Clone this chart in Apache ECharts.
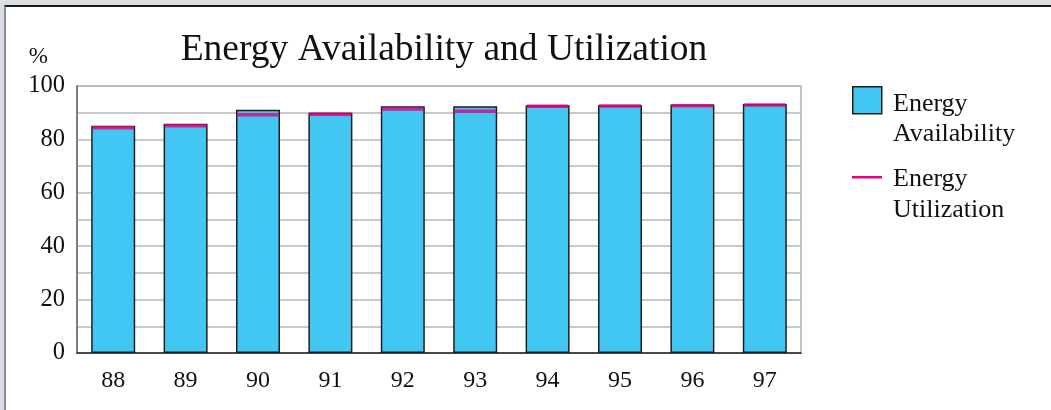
<!DOCTYPE html>
<html>
<head>
<meta charset="utf-8">
<script src="https://cdn.jsdelivr.net/npm/echarts@6/dist/echarts.min.js"></script>
<style>
  html, body { margin: 0; padding: 0; background: #dadee2; }
  #frame { position: absolute; left: 4px; top: 5px; width: 1047px; height: 410px; background: #fff;
           border-top: 2px solid #1a1a1a; border-left: 2px solid #8a8f96; box-sizing: border-box; }
  #chart { position: absolute; left: 0; top: 0; width: 1051px; height: 410px; }
</style>
</head>
<body>
<div id="frame"></div>
<div id="chart"></div>
<script>
const categories = ['88', '89', '90', '91', '92', '93', '94', '95', '96', '97'];
const availability = [85.1, 85.9, 91.1, 90.0, 92.4, 92.4, 92.8, 92.8, 93.1, 93.3];
const utilization = [84.4, 85.1, 89.2, 89.4, 91.4, 90.5, 92.4, 92.5, 92.6, 92.9];
const yTicks = [0, 20, 40, 60, 80, 100];

const FONT = '"Liberation Serif", "Times New Roman", serif';
const chart = echarts.init(document.getElementById('chart'), null, { renderer: 'canvas' });

chart.setOption({
  backgroundColor: 'transparent',
  animation: false,
  title: {
    text: 'Energy Availability and Utilization',
    left: 439, textAlign: 'center', top: 26,
    textStyle: { fontFamily: FONT, fontSize: 37.5, fontWeight: 'normal', color: '#111' }
  },
  grid: { left: 77, right: 250, top: 86, bottom: 57, show: true, borderColor: '#a9aeb5', borderWidth: 1.5 },
  xAxis: {
    type: 'category', data: categories,
    axisTick: { show: false },
    axisLine: { lineStyle: { color: '#222', width: 1.5 } },
    axisLabel: { fontFamily: FONT, fontSize: 24, color: '#111', margin: 16 }
  },
  yAxis: {
    type: 'value', min: 0, max: 100, interval: 10,
    name: '%', nameLocation: 'end', nameGap: 18,
    nameTextStyle: { fontFamily: FONT, fontSize: 23, color: '#111', align: 'right', padding: [0, 29, 0, 0] },
    axisLine: { show: true, lineStyle: { color: '#666', width: 1.5 } },
    axisTick: { show: false },
    splitLine: { lineStyle: { color: '#b3b8bf', width: 1.5 } },
    axisLabel: {
      fontFamily: FONT, fontSize: 24.5, color: '#111', margin: 12,
      formatter: v => (yTicks.indexOf(v) >= 0 ? String(v) : '')
    }
  },
  series: [
    {
      name: 'Energy Availability', type: 'bar', data: availability, barWidth: 44,
      itemStyle: { color: '#42c7f3', borderColor: '#1e1e1e', borderWidth: 1.5 }
    },
    {
      name: 'Energy Utilization', type: 'scatter', data: utilization,
      symbol: 'rect', symbolSize: [42, 3.5], z: 5,
      itemStyle: { color: '#e5007e' }
    }
  ],
  graphic: [
    { type: 'rect', left: 852, top: 86, shape: { width: 29, height: 27 },
      style: { fill: '#42c7f3', stroke: '#1e1e1e', lineWidth: 1.5 } },
    { type: 'text', left: 893, top: 89,
      style: { text: 'Energy\nAvailability', font: '26px ' + FONT, fill: '#111', lineHeight: 30 } },
    { type: 'rect', left: 852, top: 176, shape: { width: 30, height: 2.5 },
      style: { fill: '#e5007e' } },
    { type: 'text', left: 893, top: 164,
      style: { text: 'Energy\nUtilization', font: '26px ' + FONT, fill: '#111', lineHeight: 31 } }
  ]
});
</script>
</body>
</html>
